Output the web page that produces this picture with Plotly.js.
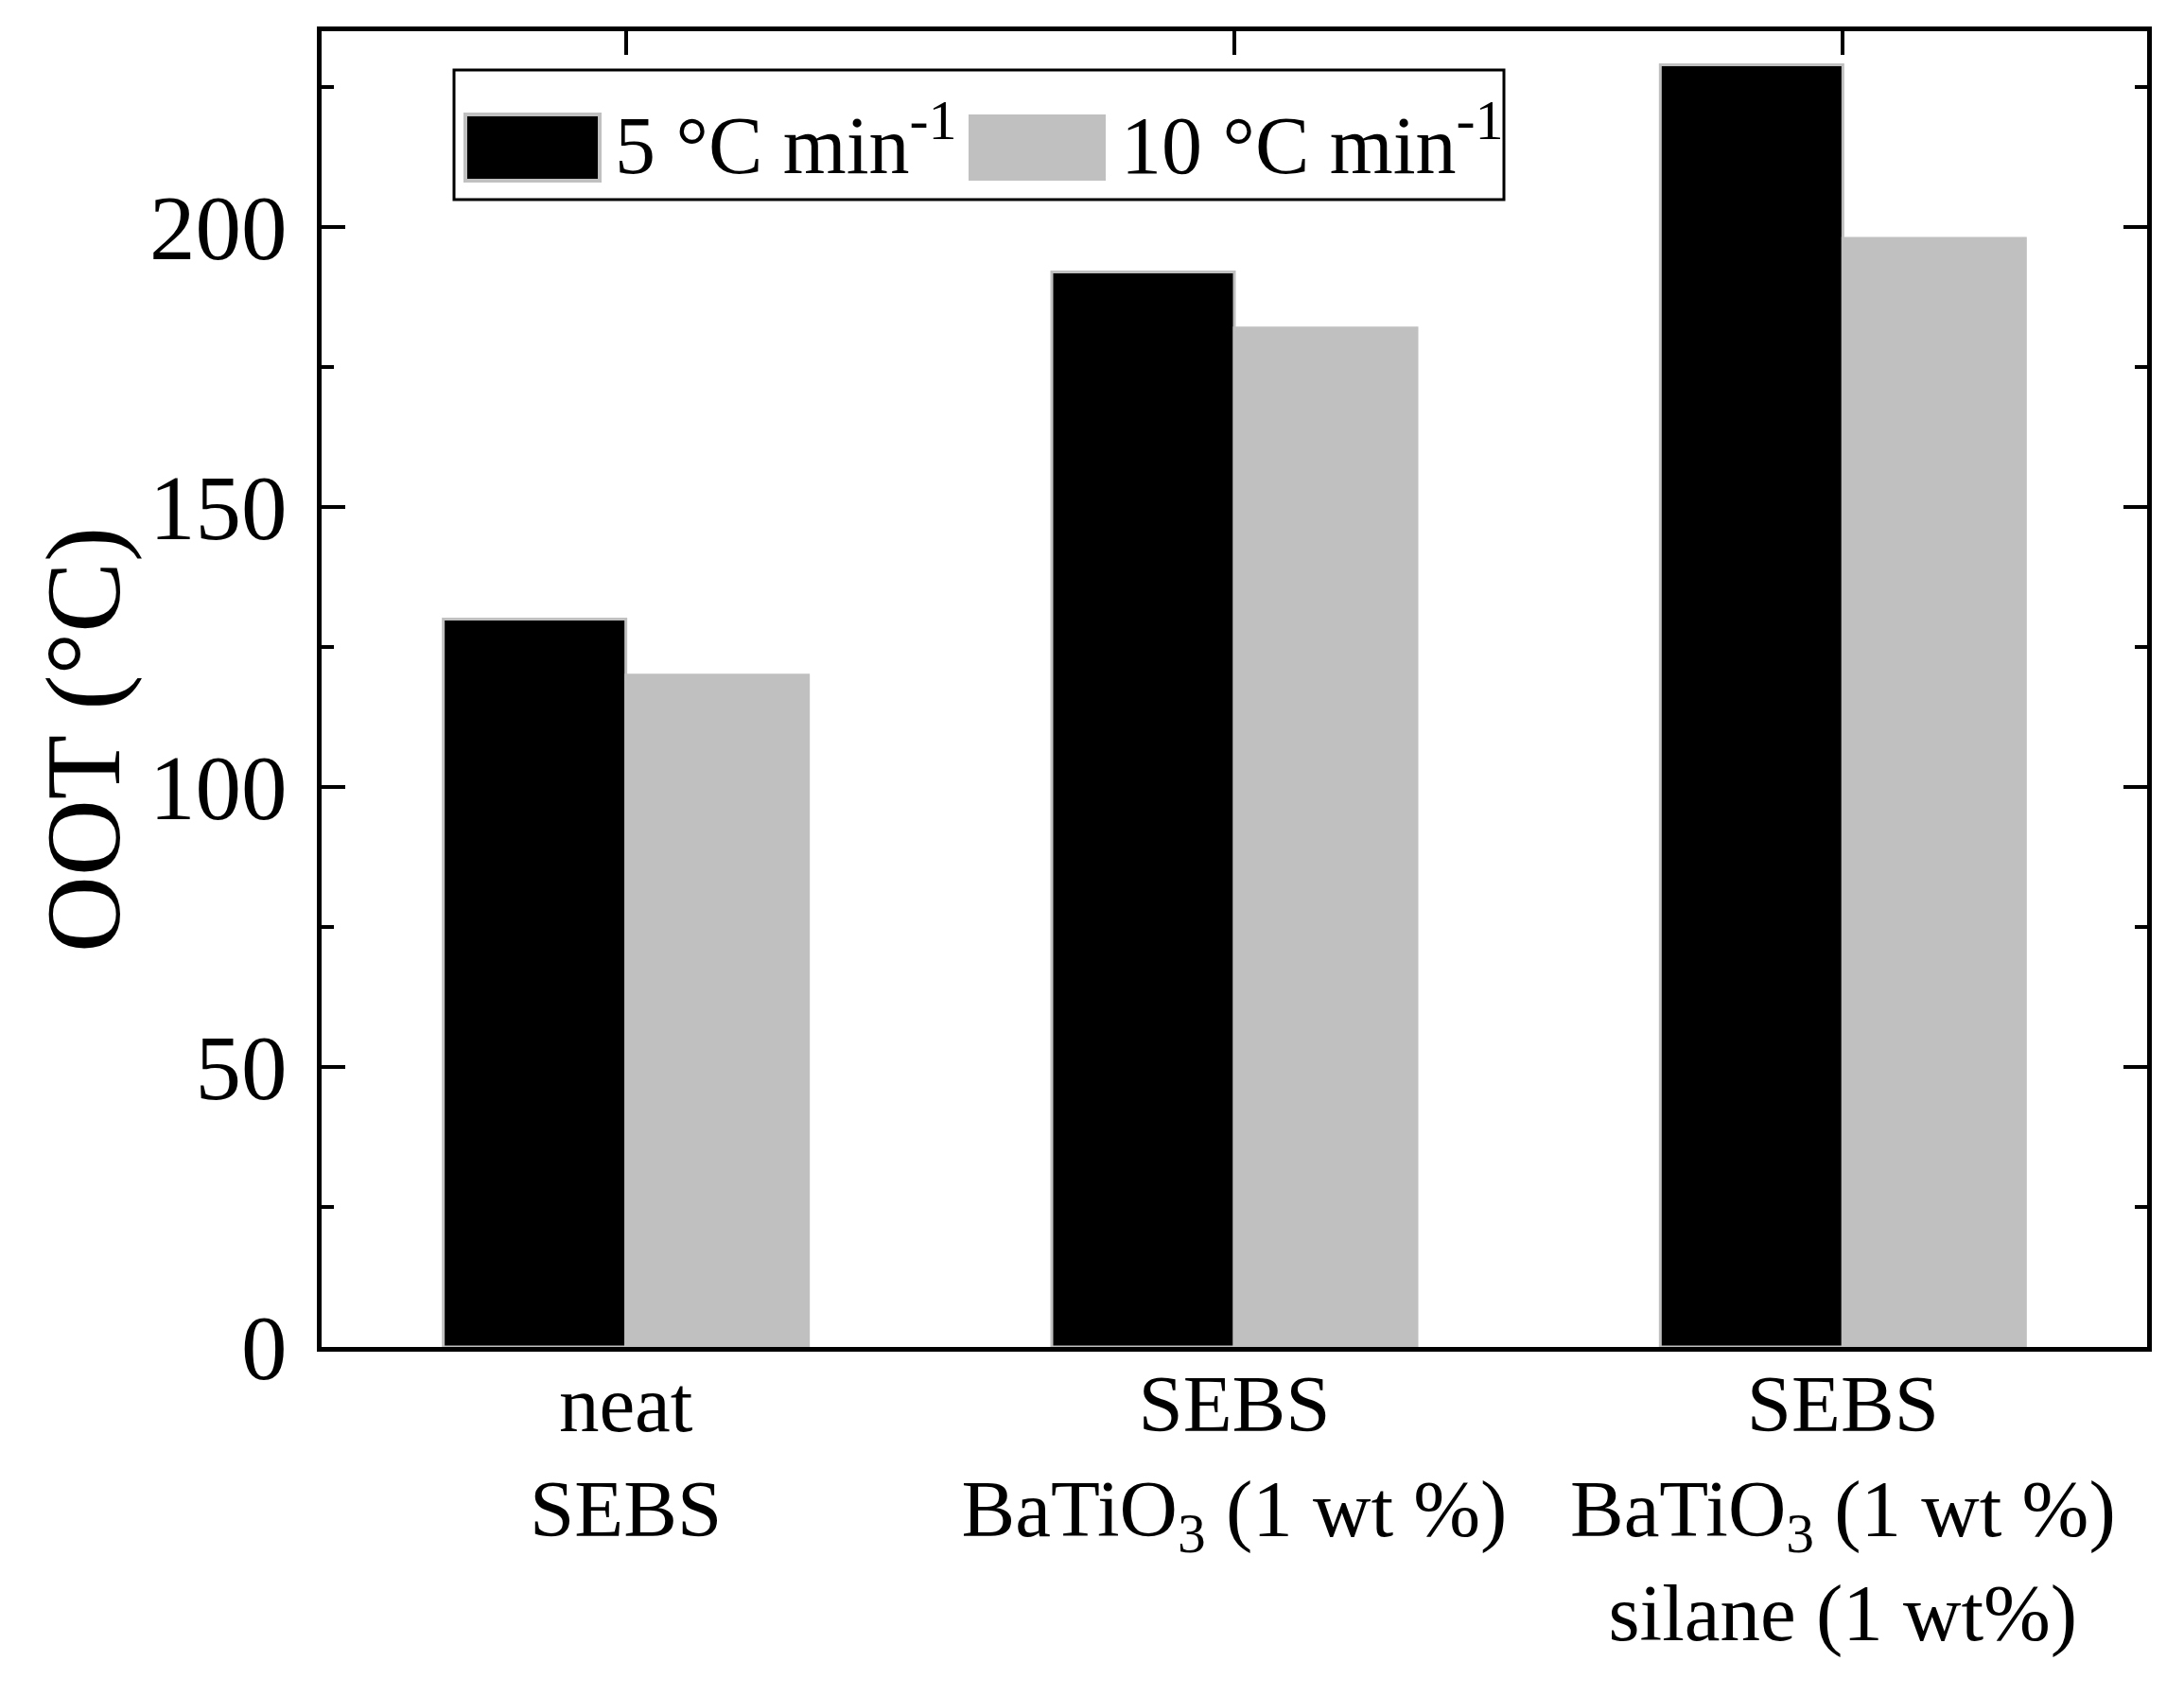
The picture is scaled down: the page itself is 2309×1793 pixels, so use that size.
<!DOCTYPE html>
<html>
<head>
<meta charset="utf-8">
<script src="https://cdn.plot.ly/plotly-3.0.1.min.js"></script>
<style>html,body{margin:0;padding:0;background:#fff;}</style>
</head>
<body>
<div id="chart" style="width:2309px;height:1793px;"></div>
<script>
const categories = ["neat<br>SEBS", "SEBS<br>BaTiO<sub>3</sub> (1 wt %)", "SEBS<br>BaTiO<sub>3</sub> (1 wt %)<br>silane (1 wt%)"];
const seriesNames = ["5 °C min<sup>-1</sup>", "10 °C min<sup>-1</sup>"];
const rate5 = [130, 192, 229];
const rate10 = [120, 182, 198];
const yTickVals = [0, 50, 100, 150, 200];
const yTitle = "OOT (°C)";

const FONT = "Liberation Serif, Times New Roman, serif";
const BLACK = "#000000";
const GRAY = "#c0c0c0";

const traces = [
  {type: "bar", name: seriesNames[0], x: categories, y: rate5,
   marker: {color: BLACK, line: {color: GRAY, width: 3}}, showlegend: false},
  {type: "bar", name: seriesNames[1], x: categories, y: rate10,
   marker: {color: GRAY, line: {color: GRAY, width: 3}}, showlegend: false}
];

function px2x(p){ return (p - 340) / 1930; }
function px2y(p){ return (1424 - p) / 1391; }

const layout = {
  width: 2309, height: 1793,
  margin: {l: 340, r: 39, t: 33, b: 369},
  paper_bgcolor: "#fff", plot_bgcolor: "#fff",
  barmode: "group", bargap: 0.4, bargroupgap: 0,
  font: {family: FONT, color: "#000"},
  xaxis: {
    type: "category", showline: true, linewidth: 5, linecolor: "#000", mirror: true,
    ticks: "", showgrid: false, zeroline: false,
    tickfont: {family: FONT, size: 85, color: "#000"},
    ticklabelstandoff: -18
  },
  xaxis2: {
    overlaying: "x", side: "top", type: "linear", range: [-0.5, categories.length - 0.5],
    tickvals: categories.map((c, i) => i), ticks: "inside", ticklen: 25, tickwidth: 4,
    tickcolor: "#000", showticklabels: false, showgrid: false, zeroline: false, showline: false
  },
  yaxis: {
    range: [0, 235], showline: true, linewidth: 5, linecolor: "#000", mirror: "ticks",
    ticks: "inside", ticklen: 25, tickwidth: 4, tickcolor: "#000",
    tickvals: yTickVals, ticktext: yTickVals.map(String),
    minor: {ticks: "inside", ticklen: 13, tickwidth: 4, tickcolor: "#000", dtick: 25, tick0: 0, showgrid: false},
    showgrid: false, zeroline: false,
    tickfont: {family: FONT, size: 97, color: "#000"},
    ticklabelstandoff: 12
  },
  shapes: [
    {type: "rect", xref: "paper", yref: "paper", x0: px2x(480), x1: px2x(1590), y0: px2y(211), y1: px2y(74),
     line: {color: "#000", width: 3}, fillcolor: "rgba(0,0,0,0)"},
    {type: "rect", xref: "paper", yref: "paper", x0: px2x(492), x1: px2x(634), y0: px2y(191), y1: px2y(121),
     line: {color: GRAY, width: 4}, fillcolor: BLACK},
    {type: "rect", xref: "paper", yref: "paper", x0: px2x(1024), x1: px2x(1169), y0: px2y(191), y1: px2y(121),
     line: {color: GRAY, width: 0}, fillcolor: GRAY}
  ],
  annotations: [
    {xref: "paper", yref: "paper", x: px2x(648), y: px2y(148), xanchor: "left", yanchor: "middle",
     text: seriesNames[0], showarrow: false, font: {family: FONT, size: 86, color: "#000"}},
    {xref: "paper", yref: "paper", x: px2x(1183), y: px2y(148), xanchor: "left", yanchor: "middle",
     text: seriesNames[1], showarrow: false, font: {family: FONT, size: 86, color: "#000"}},
    {xref: "paper", yref: "paper", x: px2x(88), y: px2y(782), xanchor: "center", yanchor: "middle",
     textangle: -90, text: yTitle, showarrow: false, font: {family: FONT, size: 112, color: "#000"}}
  ]
};

// invisible helper trace so the top (mirror) category ticks are drawn
traces.push({type: "scatter", x: [0], y: [0], xaxis: "x2", yaxis: "y", mode: "markers",
  marker: {opacity: 0}, hoverinfo: "skip", showlegend: false});

Plotly.newPlot("chart", traces, layout, {displayModeBar: false, staticPlot: true});
</script>
</body>
</html>
